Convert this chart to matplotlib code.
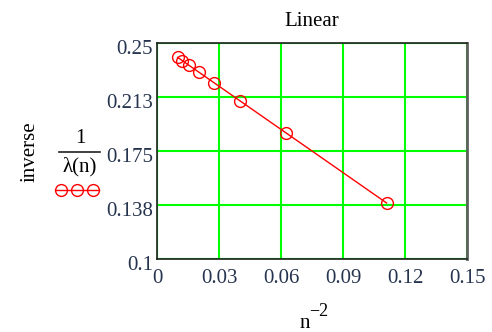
import matplotlib.pyplot as plt
from matplotlib.lines import Line2D
from matplotlib.transforms import ScaledTranslation

# values (x = n^-2, y = 1/lambda(n))
n_inv2 = [0.1111, 0.0625, 0.0400, 0.0278, 0.0204, 0.0156, 0.0123, 0.0100]
inv_lambda = [0.1389, 0.1875, 0.2100, 0.2222, 0.2296, 0.2344, 0.2377, 0.2400]

x_ticks = [0, 0.03, 0.06, 0.09, 0.12, 0.15]
x_labels = ["0", "0.03", "0.06", "0.09", "0.12", "0.15"]
y_ticks = [0.1, 0.1375, 0.175, 0.2125, 0.25]
y_labels = ["0.1", "0.138", "0.175", "0.213", "0.25"]

plt.rcParams['font.family'] = ['Liberation Serif', 'DejaVu Serif']
label_color = "#26344f"

W, H = 492, 332
fig = plt.figure(figsize=(W / 100, H / 100), dpi=100)
ax = fig.add_axes([157 / W, 73 / H, 310 / W, 216 / H])

ax.plot(n_inv2, inv_lambda, color="red", lw=1, marker="o", ms=8.5,
        mfc="none", mec="red", mew=1, zorder=3)

ax.set_xlim(0, 0.15)
ax.set_ylim(0.1, 0.25)
ax.set_xticks(x_ticks, labels=x_labels)
ax.set_yticks(y_ticks, labels=y_labels)
ax.grid(color="#00ff00", lw=1.5)
ax.set_axisbelow(True)
ax.tick_params(length=0, labelsize=15, labelcolor=label_color)
ax.tick_params(axis="x", pad=7)
ax.tick_params(axis="y", pad=3)
for lab in ax.get_yticklabels():
    lab.set_transform(lab.get_transform() + ScaledTranslation(0, -3 / 72, fig.dpi_scale_trans))

for s in ["left", "bottom", "top"]:
    ax.spines[s].set_color("#202020")
    ax.spines[s].set_linewidth(1.2)
ax.spines["right"].set_color("#606060")
ax.spines["right"].set_linewidth(2)

ax.set_title("Linear", fontsize=15, pad=12)

# x axis label: n^-2
fig.text(305 / W, 1 - 324 / H, "n", fontsize=15, ha="center", va="center")
fig.text(319 / W, 1 - 312 / H, "\u22122", fontsize=13, ha="center", va="center")

# y axis label: "inverse" and 1/lambda(n) with legend marker
fig.text(30 / W, 1 - 152 / H, "inverse", fontsize=15, rotation=90,
         ha="center", va="center")
fig.text(80 / W, 1 - 138 / H, "1", fontsize=15, ha="center", va="center")
fig.add_artist(Line2D([59 / W, 100 / W], [1 - 152 / H, 1 - 152 / H],
                      color="#202020", lw=1.2))
fig.text(80 / W, 1 - 167 / H, "\u03bb(n)", fontsize=15, ha="center", va="center")
fig.add_artist(Line2D([55 / W, 61 / W, 77 / W, 93 / W, 99 / W], [1 - 190 / H] * 5,
                      color="red", lw=1, marker="o", ms=8.5, mfc="none",
                      markevery=[1, 2, 3]))

fig.savefig("out.png", dpi=100)
